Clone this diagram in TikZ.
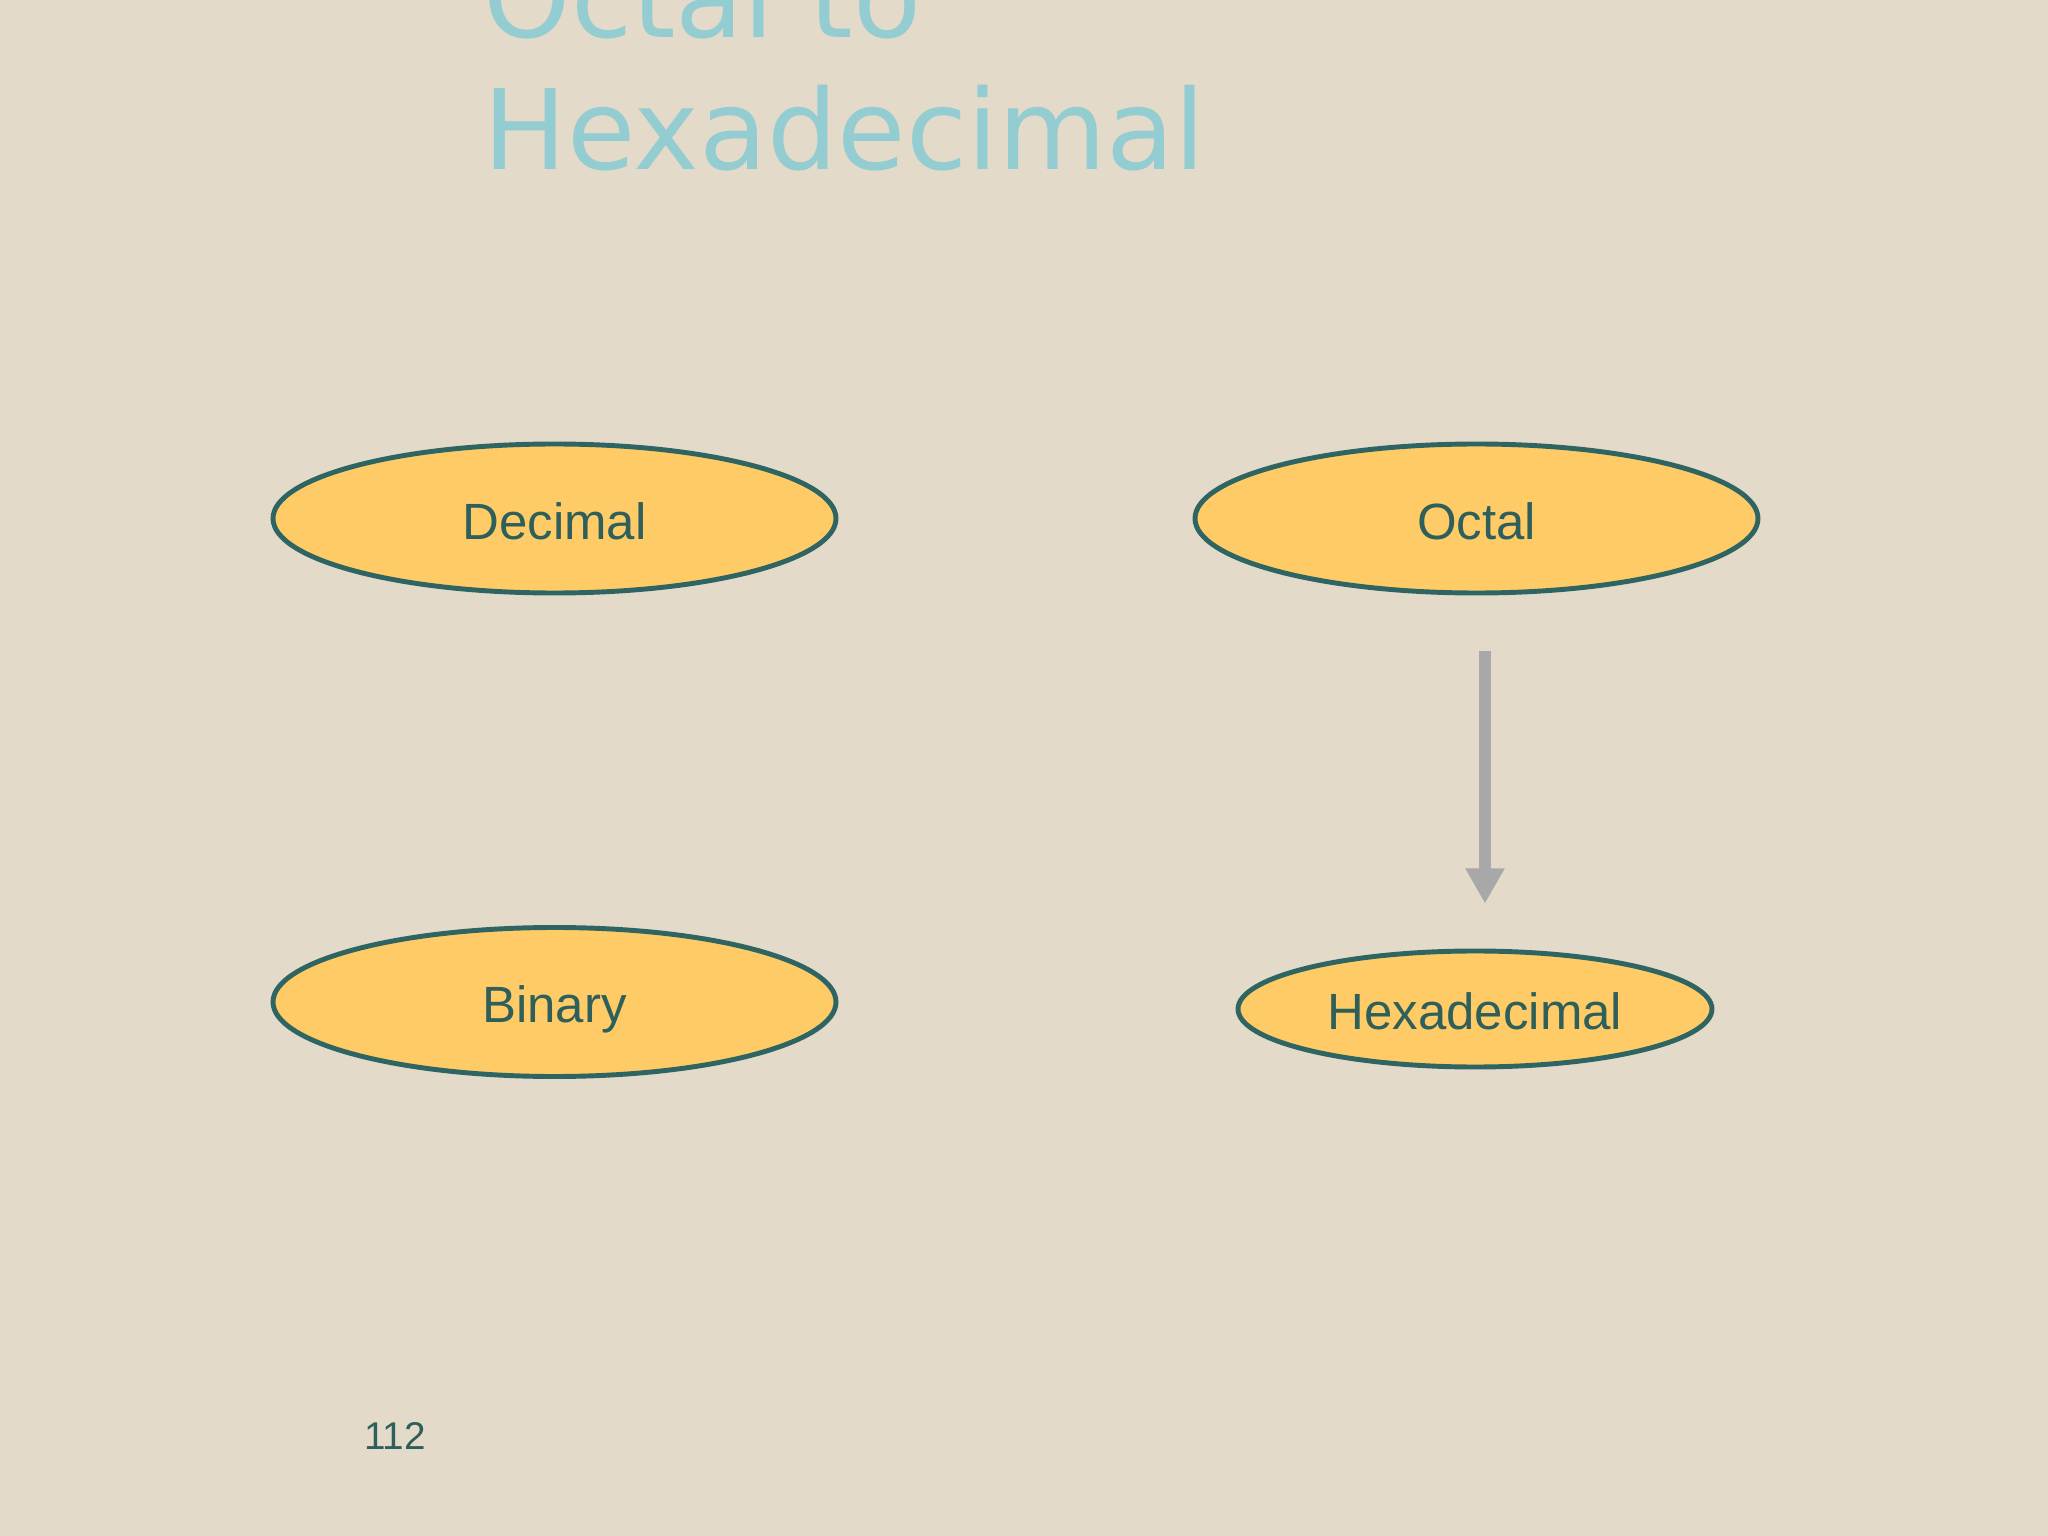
\documentclass[tikz,border=0pt]{standalone}
\usepackage{fontspec}
\setmainfont{Liberation Sans}
\newfontfamily\titlefont{DejaVu Sans}
\usetikzlibrary{shapes.geometric,arrows.meta}
\definecolor{bgbeige}{HTML}{E3DACA}
\definecolor{ellfill}{HTML}{FECB66}
\definecolor{ellline}{HTML}{2E6562}
\definecolor{txtteal}{HTML}{2E5F5B}
\definecolor{titleblue}{HTML}{93CDD1}
\definecolor{arrgray}{HTML}{A8A8A8}
\tikzset{
  oval/.style={ellipse, draw=ellline, fill=ellfill, line width=1.4pt, inner sep=0pt,
    text=txtteal, font=\fontsize{14.5}{17}\selectfont, text height=11.8pt, text depth=0pt},
  bigoval/.style={oval, minimum width=5.63cm, minimum height=1.49cm},
  smalloval/.style={oval, minimum width=4.74cm, minimum height=1.16cm},
  titletext/.style={anchor=base west, inner sep=0pt, text=titleblue, font=\titlefont\fontsize{31.6}{37}\selectfont},
  convarrow/.style={draw=arrgray, line width=3.4pt, -{Triangle[width=10.5pt,length=10pt]}}
}
\begin{document}
\begin{tikzpicture}
\clip (0,0) rectangle (20.48,-15.36);
\fill[bgbeige] (0,0) rectangle (20.48,-15.36);
\useasboundingbox (0,0) rectangle (20.48,-15.36);
\node[titletext] (title1) at (4.83,-0.38) {Octal to};
\node[titletext] (title2) at (4.83,-1.70) {Hexadecimal};
\node[bigoval] (decimal) at (5.545,-5.185) {Decimal};
\node[bigoval] (octal) at (14.765,-5.185) {Octal};
\node[bigoval] (binary) at (5.545,-10.02) {Binary};
\node[smalloval] (hex) at (14.75,-10.09) {Hexadecimal};
\draw[convarrow, shorten <=0.56cm, shorten >=0.45cm]
  ([xshift=0.085cm]octal.south) -- ([xshift=0.085cm]octal.south |- hex.north);
\node[text=txtteal, font=\fontsize{11}{13}\selectfont, inner sep=0pt] (pagenum) at (3.95,-14.36) {112};
\end{tikzpicture}
\end{document}
